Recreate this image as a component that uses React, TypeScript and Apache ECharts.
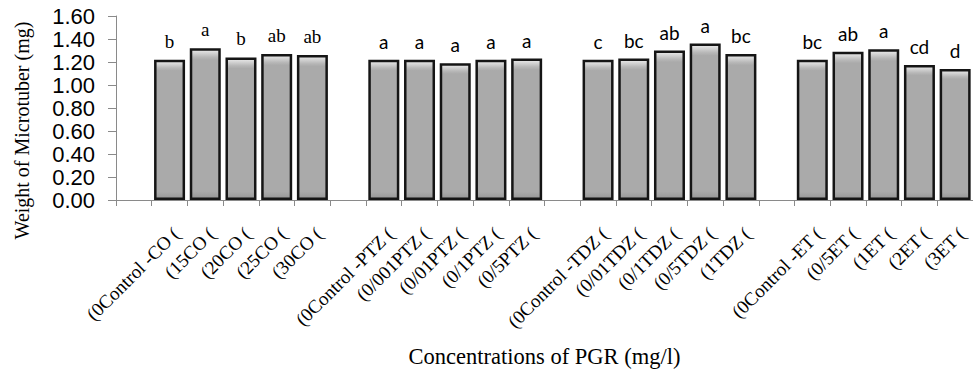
import React, { useEffect, useRef } from "react";
import * as echarts from "echarts";

const coLabels = ["(0Control -CO (", "(15CO (", "(20CO (", "(25CO (", "(30CO ("];
const coValues = [1.22, 1.32, 1.24, 1.27, 1.26];
const coLetters = ["b", "a", "b", "ab", "ab"];

const ptzLabels = ["(0Control -PTZ (", "(0/001PTZ (", "(0/01PTZ (", "(0/1PTZ (", "(0/5PTZ ("];
const ptzValues = [1.22, 1.22, 1.19, 1.22, 1.23];
const ptzLetters = ["a", "a", "a", "a", "a"];

const tdzLabels = ["(0Control -TDZ (", "(0/01TDZ (", "(0/1TDZ (", "(0/5TDZ (", "(1TDZ ("];
const tdzValues = [1.22, 1.23, 1.3, 1.36, 1.27];
const tdzLetters = ["c", "bc", "ab", "a", "bc"];

const etLabels = ["(0Control -ET (", "(0/5ET (", "(1ET (", "(2ET (", "(3ET ("];
const etValues = [1.22, 1.29, 1.31, 1.175, 1.14];
const etLetters = ["bc", "ab", "a", "cd", "d"];

const yTicks = ["0.00", "0.20", "0.40", "0.60", "0.80", "1.00", "1.20", "1.40", "1.60"];

const groups = [
  { labels: coLabels, values: coValues, letters: coLetters, serif: true },
  { labels: ptzLabels, values: ptzValues, letters: ptzLetters, serif: false },
  { labels: tdzLabels, values: tdzValues, letters: tdzLetters, serif: false },
  { labels: etLabels, values: etValues, letters: etLetters, serif: false },
];

export default function App() {
  const ref = useRef<HTMLDivElement>(null);
  useEffect(() => {
    document.body.style.margin = "0";
    const chart = echarts.init(ref.current!, null, { renderer: "svg" });

    const categories: string[] = [];
    const data: any[] = [];
    groups.forEach((g) => {
      categories.push("");
      data.push(null);
      g.labels.forEach((l, i) => {
        categories.push(l);
        data.push({
          value: g.values[i],
          label: {
            formatter: g.letters[i],
            fontFamily: g.serif ? "Liberation Serif" : "Lato",
          },
        });
      });
    });

    const barFill = new echarts.graphic.LinearGradient(0, 0, 0, 1, [
      { offset: 0, color: "#ececec" },
      { offset: 0.05, color: "#b8b8b8" },
      { offset: 0.07, color: "#aaaaaa" },
      { offset: 0.95, color: "#aaaaaa" },
      { offset: 1, color: "#979797" },
    ]);

    chart.setOption({
      animation: false,
      backgroundColor: "#ffffff",
      grid: { left: 116, top: 16, bottom: 170, width: 863 },
      xAxis: {
        type: "category",
        data: categories,
        boundaryGap: true,
        axisLine: { show: true, lineStyle: { color: "#8a8a8a", width: 1 } },
        axisTick: { show: true, interval: 0, length: 6, lineStyle: { color: "#8a8a8a" } },
        axisLabel: {
          interval: 0,
          rotate: 45,
          margin: 24,
          verticalAlign: "top",
          fontFamily: "Liberation Serif",
          fontSize: 19,
          color: "#000",
        },
        name: "Concentrations of PGR (mg/l)",
        nameLocation: "middle",
        nameGap: 145,
        nameTextStyle: { fontFamily: "Liberation Serif", fontSize: 22.5, color: "#000" },
        splitLine: { show: false },
      },
      yAxis: {
        type: "value",
        min: 0,
        max: 1.6,
        interval: 0.2,
        axisLine: { show: true, lineStyle: { color: "#8a8a8a", width: 1 } },
        axisTick: { show: true, length: 8, lineStyle: { color: "#8a8a8a" } },
        axisLabel: {
          margin: 21,
          fontFamily: "Liberation Sans",
          fontSize: 22,
          color: "#000",
          formatter: (v: number) => yTicks[Math.round(v / 0.2)] ?? v.toFixed(2),
        },
        name: "Weight of Microtuber (mg)",
        nameLocation: "middle",
        nameGap: 84,
        nameTextStyle: {
          fontFamily: "Liberation Serif",
          fontSize: 20,
          color: "#000",
          padding: [0, 45, 0, 0],
        },
        splitLine: { show: false },
      },
      series: [
        {
          type: "bar",
          data,
          barWidth: 31,
          itemStyle: { color: barFill, borderColor: "#151515", borderWidth: 2.5 },
          label: {
            show: true,
            position: "top",
            distance: 9,
            fontSize: 19,
            color: "#000",
          },
        },
      ],
    });
    return () => chart.dispose();
  }, []);
  return <div ref={ref} style={{ width: 973, height: 373, position: "absolute", left: 0, top: 0 }} />;
}
